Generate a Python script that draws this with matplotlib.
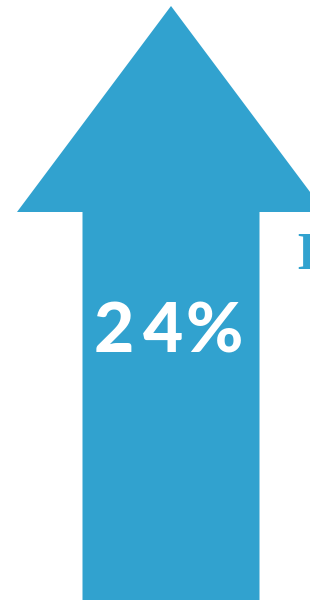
import matplotlib
matplotlib.use("Agg")
import matplotlib.pyplot as plt

# data
value_pct = [24]
labels = [f"{v}%" for v in value_pct]
side_label = ["I"]

BLUE = "#31A2CF"

fig = plt.figure(figsize=(3.1, 6.0), dpi=100)
ax = fig.add_axes([0, 0, 1, 1])
ax.set_xlim(0, 310)
ax.set_ylim(600, 0)
ax.axis("off")

# arrow geometry (layout)
tip_x, tip_y = 171, 6
head_half = 154
head_base = 212
shaft_l, shaft_r = 82.5, 259.5
xs = [tip_x, tip_x + head_half, shaft_r, shaft_r, shaft_l, shaft_l, tip_x - head_half]
ys = [tip_y, head_base, head_base, 600, 600, head_base, head_base]
ax.fill(xs, ys, color=BLUE, lw=0)

# letter-spaced label
char_centers = [114, 163, 214]
for ch, cx in zip(labels[0], char_centers):
    ax.text(cx, 333, ch, color="white", fontsize=50, fontweight="black",
            family="Lato", ha="center", va="center")

ax.text(296, 256, side_label[0], color=BLUE, fontsize=38, fontweight="bold",
        family="Liberation Serif", ha="left", va="center", clip_on=True)

fig.savefig("out.png", dpi=100)
